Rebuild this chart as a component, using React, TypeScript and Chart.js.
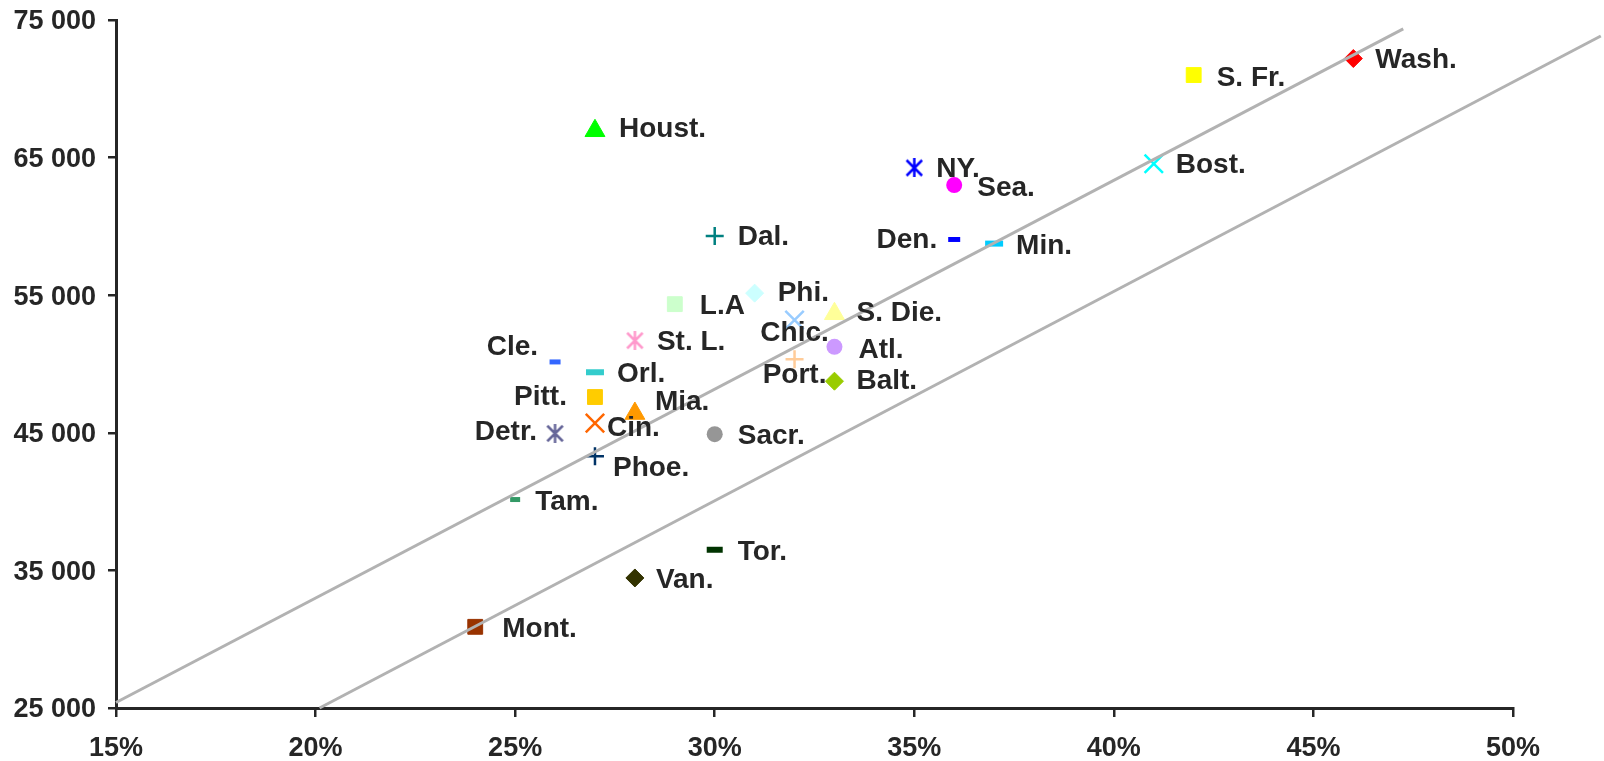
import React, { useEffect, useRef } from 'react';
import { Chart, registerables } from 'chart.js';

Chart.register(...registerables);

// ---- Data ----
const cities = ['Wash.', 'S. Fr.', 'Bost.', 'NY.', 'Sea.', 'Houst.', 'Dal.', 'Den.', 'Min.', 'Phi.', 'L.A', 'S. Die.', 'Chic.', 'St. L.', 'Atl.', 'Cle.', 'Port.', 'Orl.', 'Balt.', 'Pitt.', 'Mia.', 'Cin.', 'Detr.', 'Sacr.', 'Phoe.', 'Tam.', 'Tor.', 'Van.', 'Mont.'];
const shareValues = [46, 42, 41, 35, 36, 27, 30, 36, 37, 31, 29, 33, 32, 28, 33, 26, 32, 27, 33, 27, 28, 27, 26, 30, 27, 25, 30, 28, 24];
const incomeValues = [72200, 71000, 64550, 64250, 63000, 66950, 59300, 59050, 58750, 55150, 54350, 53650, 53200, 51700, 51250, 50150, 50350, 49400, 48750, 47600, 46400, 45700, 44950, 44900, 43300, 40150, 36500, 34450, 30900];

const upperLineX = [15, 47.25];
const upperLineY = [25400, 74350];
const lowerLineX = [20.1, 52.2];
const lowerLineY = [25000, 73840];

const xTickValues = [15, 20, 25, 30, 35, 40, 45, 50];
const yTickValues = [25000, 35000, 45000, 55000, 65000, 75000];

// ---- Styles ----
const markerColors = ['#FF0000', '#FFFF00', '#00FFFF', '#0000FF', '#FF00FF', '#00FF00', '#008080', '#0000FF', '#00CCFF', '#CCFFFF', '#CCFFCC', '#FFFF99', '#99CCFF', '#FF99CC', '#CC99FF', '#3366FF', '#FFCC99', '#33CCCC', '#99CC00', '#FFCC00', '#FF9900', '#FF6600', '#666699', '#969696', '#003366', '#339966', '#003300', '#333300', '#993300'];
const markerShapes = ['rectRot', 'rect', 'crossRot', 'star', 'circle', 'triangle', 'cross', 'dash', 'dash', 'rectRot', 'rect', 'triangle', 'crossRot', 'star', 'circle', 'dash', 'cross', 'dash', 'rectRot', 'rect', 'triangle', 'crossRot', 'star', 'circle', 'cross', 'dash', 'dash', 'rectRot', 'rect'];
const dashHalfWidths: Record<string, number> = { 'Den.': 6, 'Min.': 9, 'Cle.': 5.5, 'Orl.': 9, 'Tam.': 5, 'Tor.': 8 };

const labelSide = ['left', 'left', 'left', 'left', 'left', 'left', 'left', 'right', 'left', 'left', 'left', 'left', 'center', 'left', 'left', 'right', 'center', 'left', 'left', 'right', 'left', 'left', 'right', 'left', 'left', 'left', 'left', 'left', 'left'];
const labelDx = [22, 23, 22, 22, 23, 24, 23, -17, 22, 23, 25, 22, 0, 22, 24, -17, 0, 22, 22, -28, 20, 12, -18, 23, 18, 20, 23, 21, 27];
const labelDy = [-1, 1, -1, -1, 1, -4, -1, -1.5, 0, -2, 0, -3, 11, -1, 1, -16.5, 13.5, 0, -2, -2, -13.5, 3, -3, -0.5, 10, 0, 0, 0, 0];

const FONT = '"Liberation Sans", Arial, sans-serif';
const TEXT_COLOR = '#262626';
const AXIS_COLOR = '#262626';

function makeAsterisk(color: string, size = 19, lw = 2.5): HTMLCanvasElement {
  const c = document.createElement('canvas');
  c.width = size;
  c.height = size;
  const g = c.getContext('2d')!;
  g.strokeStyle = color;
  g.lineWidth = lw;
  const m = lw / 2 + 0.5;
  g.beginPath();
  g.moveTo(size / 2, 0);
  g.lineTo(size / 2, size);
  g.moveTo(m, m);
  g.lineTo(size - m, size - m);
  g.moveTo(size - m, m);
  g.lineTo(m, size - m);
  g.stroke();
  return c;
}

function pointStyleFor(i: number) {
  const shape = markerShapes[i];
  const color = markerColors[i];
  switch (shape) {
    case 'rectRot':
      return { pointStyle: 'rectRot', pointRadius: 9, borderWidth: 1 };
    case 'rect':
      return { pointStyle: 'rect', pointRadius: 10.5, borderWidth: 1 };
    case 'circle':
      return { pointStyle: 'circle', pointRadius: 8, borderWidth: 0 };
    case 'triangle':
      return { pointStyle: 'triangle', pointRadius: 11.5, borderWidth: 1 };
    case 'crossRot':
      return { pointStyle: 'crossRot', pointRadius: 13, borderWidth: 2.5 };
    case 'cross':
      return { pointStyle: 'cross', pointRadius: 9, borderWidth: 2.5 };
    case 'star':
      return { pointStyle: makeAsterisk(color), pointRadius: 9, borderWidth: 0 };
    case 'dash':
    default: {
      const hw = dashHalfWidths[cities[i]] ?? 7;
      return { pointStyle: 'line', pointRadius: hw, borderWidth: hw > 7 ? 6 : 5 };
    }
  }
}

const labelPlugin = {
  id: 'cityLabels',
  afterDatasetsDraw(chart: any) {
    const ctx = chart.ctx;
    const xs = chart.scales.x;
    const ys = chart.scales.y;
    ctx.save();
    ctx.font = `bold 28px ${FONT}`;
    ctx.fillStyle = TEXT_COLOR;
    ctx.textBaseline = 'alphabetic';
    cities.forEach((name, i) => {
      const px = xs.getPixelForValue(shareValues[i]);
      const py = ys.getPixelForValue(incomeValues[i]);
      ctx.textAlign = labelSide[i] as CanvasTextAlign;
      ctx.fillText(name, px + labelDx[i], py + labelDy[i] + 10);
    });
    ctx.restore();
  },
};

export default function App() {
  const canvasRef = useRef<HTMLCanvasElement | null>(null);

  useEffect(() => {
    const canvas = canvasRef.current;
    if (!canvas) return;

    const lineStyle = {
      borderColor: '#B2B2B2',
      borderWidth: 3,
      pointRadius: 0,
      showLine: true,
      fill: false,
      clip: false as any,
    };
    const lineDatasets = [
      { type: 'line' as const, data: upperLineX.map((x, i) => ({ x, y: upperLineY[i] })), ...lineStyle },
      { type: 'line' as const, data: lowerLineX.map((x, i) => ({ x, y: lowerLineY[i] })), ...lineStyle },
    ];

    const pointDatasets = cities.map((name, i) => {
      const st = pointStyleFor(i);
      return {
        type: 'scatter' as const,
        label: name,
        data: [{ x: shareValues[i], y: incomeValues[i] }],
        backgroundColor: markerColors[i],
        borderColor: markerColors[i],
        pointBackgroundColor: markerColors[i],
        pointBorderColor: markerColors[i],
        pointStyle: st.pointStyle as any,
        pointRadius: st.pointRadius,
        pointHoverRadius: st.pointRadius,
        pointBorderWidth: st.borderWidth,
        borderWidth: st.borderWidth,
        showLine: false,
      };
    });

    const chart = new Chart(canvas, {
      type: 'scatter',
      data: { datasets: [...lineDatasets, ...pointDatasets] as any },
      options: {
        animation: false,
        responsive: false,
        maintainAspectRatio: false,
        events: [],
        layout: { padding: { left: 0, top: 20, right: 91, bottom: 0 } },
        plugins: {
          legend: { display: false },
          tooltip: { enabled: false },
        },
        scales: {
          x: {
            type: 'linear',
            min: 15,
            max: 50,
            afterFit: (scale: any) => {
              scale.height = 53;
            },
            afterBuildTicks: (scale: any) => {
              scale.ticks = xTickValues.map((v) => ({ value: v }));
            },
            ticks: {
              callback: (v: any) => `${v}%`,
              font: { family: FONT, size: 27, weight: 'bold' },
              color: TEXT_COLOR,
              padding: 15,
              maxRotation: 0,
              autoSkip: false,
            },
            grid: {
              display: true,
              drawOnChartArea: false,
              drawTicks: true,
              tickLength: 9,
              color: AXIS_COLOR,
              lineWidth: 2.5,
            },
            border: { display: true, color: AXIS_COLOR, width: 3 },
          },
          y: {
            type: 'linear',
            min: 25000,
            max: 75000,
            afterFit: (scale: any) => {
              scale.width = 116;
            },
            afterBuildTicks: (scale: any) => {
              scale.ticks = yTickValues.map((v) => ({ value: v }));
            },
            ticks: {
              callback: (v: any) => {
                const n = Number(v);
                const th = Math.floor(n / 1000);
                const rest = String(n % 1000).padStart(3, '0');
                return `${th} ${rest}`;
              },
              font: { family: FONT, size: 27, weight: 'bold', lineHeight: 0.5 },
              color: TEXT_COLOR,
              padding: 12,
              labelOffset: 2,
              autoSkip: false,
            },
            grid: {
              display: true,
              drawOnChartArea: false,
              drawTicks: true,
              tickLength: 8,
              color: AXIS_COLOR,
              lineWidth: 2.5,
            },
            border: { display: true, color: AXIS_COLOR, width: 3 },
          },
        },
      },
      plugins: [labelPlugin],
    });

    return () => {
      chart.destroy();
    };
  }, []);

  return (
    <div style={{ position: 'fixed', left: 0, top: 0, width: 1604, height: 761, background: '#ffffff' }}>
      <canvas ref={canvasRef} width={1604} height={761} style={{ display: 'block', width: 1604, height: 761 }} />
    </div>
  );
}
